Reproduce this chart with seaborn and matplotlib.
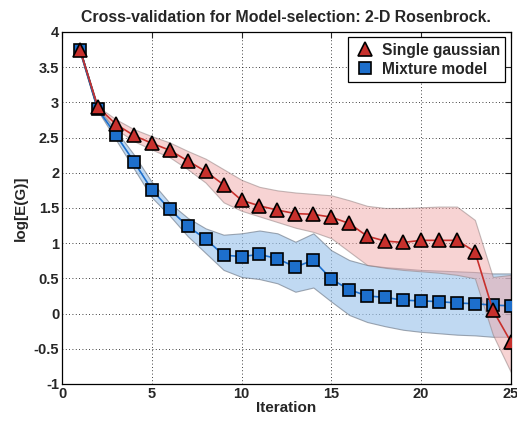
import numpy as np
import pandas as pd
import matplotlib
matplotlib.use("Agg")
import matplotlib.pyplot as plt
import seaborn as sns
from matplotlib.lines import Line2D
from matplotlib.ticker import FuncFormatter

iterations = list(range(1, 26))

# Single gaussian: mean and band
single_mean = [3.75, 2.93, 2.69, 2.53, 2.42, 2.32, 2.17, 2.02, 1.83, 1.61,
               1.53, 1.47, 1.42, 1.41, 1.37, 1.28, 1.10, 1.03, 1.01, 1.04,
               1.04, 1.04, 0.88, 0.05, -0.40]
single_upper = [3.75, 2.94, 2.76, 2.62, 2.52, 2.43, 2.31, 2.20, 2.05, 1.90,
                1.80, 1.75, 1.72, 1.70, 1.68, 1.61, 1.53, 1.50, 1.50, 1.51,
                1.52, 1.52, 1.33, 0.52, 0.55]
single_lower = [3.75, 2.92, 2.62, 2.45, 2.33, 2.22, 2.05, 1.86, 1.58, 1.46,
                1.38, 1.30, 1.22, 1.16, 1.07, 0.88, 0.69, 0.65, 0.62, 0.60,
                0.58, 0.55, 0.50, -0.30, -0.83]

# Mixture model: mean and band
mixture_mean = [3.75, 2.90, 2.54, 2.16, 1.76, 1.48, 1.24, 1.06, 0.83, 0.81,
                0.84, 0.78, 0.66, 0.76, 0.49, 0.34, 0.25, 0.23, 0.19, 0.18,
                0.17, 0.15, 0.14, 0.12, 0.11]
mixture_upper = [3.75, 2.91, 2.60, 2.26, 1.87, 1.57, 1.36, 1.21, 1.12, 1.14,
                 1.18, 1.14, 1.02, 1.14, 0.90, 0.76, 0.69, 0.66, 0.64, 0.62,
                 0.61, 0.60, 0.59, 0.57, 0.57]
mixture_lower = [3.75, 2.88, 2.47, 2.06, 1.65, 1.39, 1.10, 0.86, 0.62, 0.52,
                 0.49, 0.43, 0.31, 0.37, 0.17, -0.02, -0.12, -0.18, -0.23, -0.26,
                 -0.28, -0.30, -0.31, -0.33, -0.33]

df = pd.DataFrame({
    "Iteration": iterations * 2,
    "value": single_mean + mixture_mean,
    "model": ["Single gaussian"] * 25 + ["Mixture model"] * 25,
})

sns.set_style("white")
plt.rcParams['font.family'] = ['Liberation Sans', 'DejaVu Sans']
plt.rcParams['font.weight'] = 'bold'

red = "#c8302c"
blue = "#1d6fcc"

fig = plt.figure(figsize=(5.17, 4.21), dpi=100)
ax = fig.add_axes([0.12, 0.088, 0.868, 0.836])

ax.fill_between(iterations, mixture_lower, mixture_upper, color="#9fc6ec",
                alpha=0.65, edgecolor="#707a88", linewidth=0.8, zorder=1)
ax.fill_between(iterations, single_lower, single_upper, color="#f0a8a8",
                alpha=0.5, edgecolor="#8a7a7a", linewidth=0.8, zorder=1)

sns.lineplot(data=df[df.model == "Mixture model"], x="Iteration", y="value",
             color=blue, linewidth=1.2, marker="s", markersize=9,
             markerfacecolor=blue, markeredgecolor="black", markeredgewidth=1.2,
             ax=ax, zorder=3, legend=False)
sns.lineplot(data=df[df.model == "Single gaussian"], x="Iteration", y="value",
             color=red, linewidth=1.2, marker="^", markersize=10,
             markerfacecolor=red, markeredgecolor="black", markeredgewidth=1.2,
             ax=ax, zorder=4, legend=False)
# first segment looks dark where both curves coincide
ax.plot(iterations[:2], mixture_mean[:2], color="#16304f", linewidth=1.6, zorder=2)

ax.set_xlim(0, 25)
ax.set_ylim(-1, 4)
ax.set_xticks([0, 5, 10, 15, 20, 25])
ax.set_yticks(np.arange(-1, 4.01, 0.5))
ax.yaxis.set_major_formatter(FuncFormatter(lambda v, p: "%g" % v))
ax.grid(True, color="black", linestyle=(0, (1, 3)), linewidth=0.6)
ax.tick_params(direction="in", length=4, width=0.8, labelsize=10.5,
               top=True, right=True, pad=2)
for lab in ax.get_xticklabels() + ax.get_yticklabels():
    lab.set_fontweight("bold")
for sp in ax.spines.values():
    sp.set_color("black")
    sp.set_linewidth(0.9)

ax.set_xlabel("Iteration", fontsize=11, fontweight="bold", labelpad=0)
ax.set_ylabel("log[E(G)]", fontsize=11, fontweight="bold", labelpad=4)
ax.set_title("Cross-validation for Model-selection: 2-D Rosenbrock.",
             fontsize=11.4, fontweight="bold", pad=7)

handles = [
    Line2D([], [], linestyle="none", marker="^", markersize=10,
           markerfacecolor=red, markeredgecolor="black", markeredgewidth=1.2),
    Line2D([], [], linestyle="none", marker="s", markersize=9,
           markerfacecolor=blue, markeredgecolor="black", markeredgewidth=1.2),
]
leg = ax.legend(handles, ["Single gaussian", "Mixture model"], loc="upper right",
                fontsize=11.2, frameon=True, fancybox=False, framealpha=1,
                edgecolor="black", handletextpad=0.4, borderpad=0.35,
                labelspacing=0.25, handlelength=1.4, borderaxespad=0.35)
leg.get_frame().set_linewidth(0.9)
for t in leg.get_texts():
    t.set_fontweight("bold")

fig.savefig("out.png", dpi=100)
